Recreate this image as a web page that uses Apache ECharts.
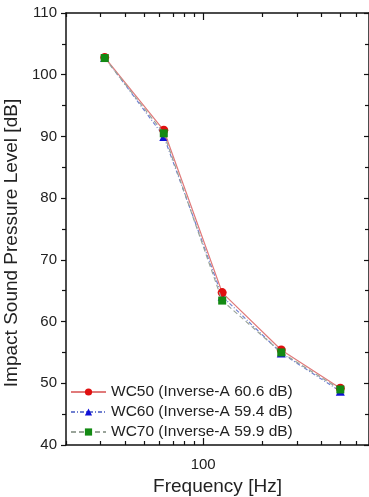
<!DOCTYPE html>
<html>
<head>
<meta charset="utf-8">
<script src="https://cdn.jsdelivr.net/npm/echarts@6/dist/echarts.min.js"></script>
<style>
  html, body { margin: 0; padding: 0; background: #fff; }
  #chart { width: 369px; height: 497px; }
</style>
</head>
<body>
<div id="chart"></div>
<script>
// frequency bands [Hz]
const freqs = [31.5, 63, 125, 250, 500]
const wc50 = [102.8, 91.0, 64.7, 55.4, 49.2]
const wc60 = [102.8, 90.0, 64.1, 54.9, 48.7]
const wc70 = [102.7, 90.5, 63.4, 55.0, 49.0]
const seriesNames = [
  'WC50 (Inverse-A 60.6 dB)',
  'WC60 (Inverse-A 59.4 dB)',
  'WC70 (Inverse-A 59.9 dB)'
]
const minorTicksX = [20, 30, 40, 50, 60, 70, 80, 90, 200, 300, 400, 500, 600]
const majorTicksX = [100]

const font = 'Liberation Sans, Arial, sans-serif'
const chart = echarts.init(document.getElementById('chart'))

const pairs = (ys) => freqs.map((f, i) => [f, ys[i]])

function xAxisDef(position, ticks, len, showLine, showLabel) {
  return {
    type: 'log',
    min: 20,
    max: 700,
    position: position,
    axisLine: { show: showLine, lineStyle: { color: '#111', width: 1.5 } },
    axisTick: { show: true, inside: true, length: len, customValues: ticks, lineStyle: { color: '#111', width: 1.2 } },
    axisLabel: {
      show: showLabel,
      customValues: majorTicksX,
      color: '#222',
      fontSize: 15,
      fontFamily: font,
      margin: 12
    },
    splitLine: { show: false },
    minorTick: { show: false }
  }
}

const xAxes = [
  Object.assign(xAxisDef('bottom', minorTicksX, 4, true, true), {
    name: 'Frequency [Hz]',
    nameLocation: 'middle',
    nameGap: 31,
    nameTextStyle: { fontSize: 19, color: '#222', fontFamily: font }
  }),
  xAxisDef('bottom', majorTicksX, 7, false, false),
  xAxisDef('top', minorTicksX, 4, true, false),
  xAxisDef('top', majorTicksX, 7, false, false)
]

const yAxes = [
  {
    type: 'value',
    min: 40,
    max: 110,
    interval: 10,
    position: 'left',
    name: 'Impact Sound Pressure Level [dB]',
    nameLocation: 'middle',
    nameGap: 37,
    nameTextStyle: { fontSize: 19, color: '#222', fontFamily: font, padding: [0, 28, 0, 0] },
    axisLine: { show: true, lineStyle: { color: '#111', width: 1.5 } },
    axisTick: { show: true, inside: false, length: 5, lineStyle: { color: '#111', width: 1.2 } },
    minorTick: { show: true, splitNumber: 2, length: 4, lineStyle: { color: '#111', width: 1.2 } },
    axisLabel: { color: '#222', fontSize: 15, fontFamily: font, margin: 9 },
    splitLine: { show: false }
  },
  {
    type: 'value',
    min: 40,
    max: 110,
    interval: 10,
    position: 'right',
    axisLine: { show: true, lineStyle: { color: '#111', width: 1.5 } },
    axisTick: { show: true, inside: true, length: 5, lineStyle: { color: '#111', width: 1.2 } },
    minorTick: { show: true, splitNumber: 2, length: 4, lineStyle: { color: '#111', width: 1.2 } },
    axisLabel: { show: false },
    splitLine: { show: false }
  }
]

const option = {
  animation: false,
  backgroundColor: '#fff',
  textStyle: { fontFamily: font },
  grid: { left: 66, right: 0, top: 13, bottom: 52, containLabel: false, outerBoundsMode: 'none' },
  xAxis: xAxes,
  yAxis: yAxes,
  legend: {
    orient: 'vertical',
    left: 65,
    top: 379,
    itemWidth: 35,
    itemHeight: 9,
    itemGap: 4,
    textStyle: { fontSize: 15.5, color: '#222', fontFamily: font },
    data: seriesNames
  },
  series: [
    {
      name: seriesNames[0],
      type: 'line',
      data: pairs(wc50),
      symbol: 'circle',
      symbolSize: 9,
      itemStyle: { color: '#e01010' },
      lineStyle: { color: '#e07a7a', width: 1.2, type: 'solid' },
      z: 3
    },
    {
      name: seriesNames[1],
      type: 'line',
      data: pairs(wc60),
      symbol: 'triangle',
      symbolSize: 9,
      itemStyle: { color: '#1010d8' },
      lineStyle: { color: '#7080d0', width: 1.2, type: [4, 2, 1, 2] },
      z: 2
    },
    {
      name: seriesNames[2],
      type: 'line',
      data: pairs(wc70),
      symbol: 'rect',
      symbolSize: 8,
      itemStyle: { color: '#138a13' },
      lineStyle: { color: '#9aa49a', width: 1.2, type: [5, 3] },
      z: 4
    }
  ]
}

chart.setOption(option)
</script>
</body>
</html>
